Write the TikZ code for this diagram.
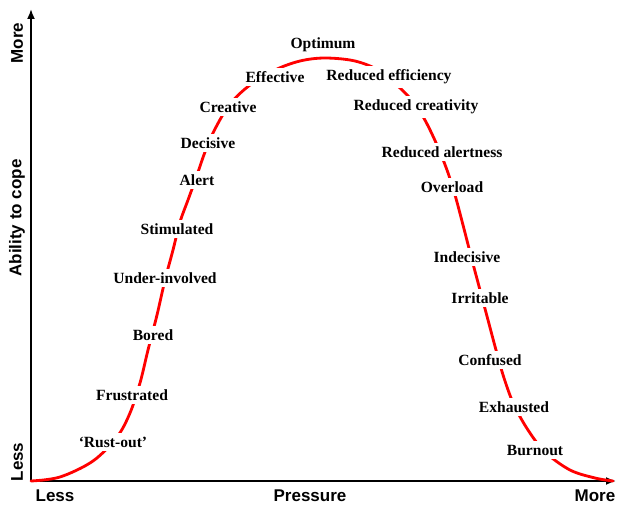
\documentclass[tikz,border=0pt]{standalone}
\usepackage{fontspec}
\setmainfont{Liberation Serif}
\newfontfamily\axisfont{Liberation Sans}
\usetikzlibrary{arrows.meta,positioning}

\begin{document}
\begin{tikzpicture}[
  x=0.03cm, y=-0.03cm,
  stage/.style={fill=white, inner xsep=2pt, inner ysep=3pt, font=\fontsize{13.3}{15}\selectfont\bfseries},
  axislabel/.style={font=\axisfont\fontsize{14.5}{16}\selectfont\bfseries},
  axisline/.style={line width=1.5pt, -{Latex[length=3mm,width=2.4mm]}},
  curve/.style={red, line width=2.4pt, line cap=round},
]
\useasboundingbox (0,0) rectangle (617,506);

\coordinate (origin) at (31,481);
\coordinate (ytop) at (31,9);
\coordinate (xend) at (616,481);

\draw[axisline] (origin) -- (ytop);
\draw[axisline] (origin) -- (xend);

\draw[curve] plot[smooth, tension=0.55] coordinates {
  (31,481) (60,477) (93,461) (117,437) (130,413) (140,383) (148,350)
  (157,315) (165,280) (173,250) (180,222) (188,200) (196,178) (205,152)
  (215,129) (230,104) (250,85) (275,70) (300,61) (325,58) (355,61)
  (380,71) (400,88) (415,104) (426,122) (437,145) (447,170) (455,195)
  (463,225) (472,260) (480,290) (488,320) (496,350) (504,378) (514,405)
  (528,430) (545,452) (570,470) (595,478) (613,481)};

\node[axislabel, rotate=90] (ymore) at (17,43) {More};
\node[axislabel, rotate=90] (ylabel) at (17,218) {Ability to cope};
\node[axislabel, rotate=90] (yless) at (17,462) {Less};
\node[axislabel] (xless) at (55,496) {Less};
\node[axislabel] (xlabel) at (310,496) {Pressure};
\node[axislabel] (xmore) at (595,496) {More};

\node[stage] (rustout) at (113,442) {‘Rust-out’};
\node[stage] (frustrated) at (132,395) {Frustrated};
\node[stage] (bored) at (153,335) {Bored};
\node[stage] (underinv) at (165,278) {Under-involved};
\node[stage] (stimulated) at (177,229) {Stimulated};
\node[stage] (alert) at (197,180) {Alert};
\node[stage] (decisive) at (208,143) {Decisive};
\node[stage] (creative) at (228,107) {Creative};
\node[stage] (effective) at (275,77) {Effective};
\node[stage] (optimum) at (323,45) {Optimum};
\node[stage] (redeff) at (389,77) {Reduced efficiency};
\node[stage] (redcre) at (416,107) {Reduced creativity};
\node[stage] (redale) at (442,152) {Reduced alertness};
\node[stage] (overload) at (452,187) {Overload};
\node[stage] (indecisive) at (467,257) {Indecisive};
\node[stage] (irritable) at (480,298) {Irritable};
\node[stage] (confused) at (490,360) {Confused};
\node[stage] (exhausted) at (514,407) {Exhausted};
\node[stage] (burnout) at (535,450) {Burnout};

\end{tikzpicture}
\end{document}
